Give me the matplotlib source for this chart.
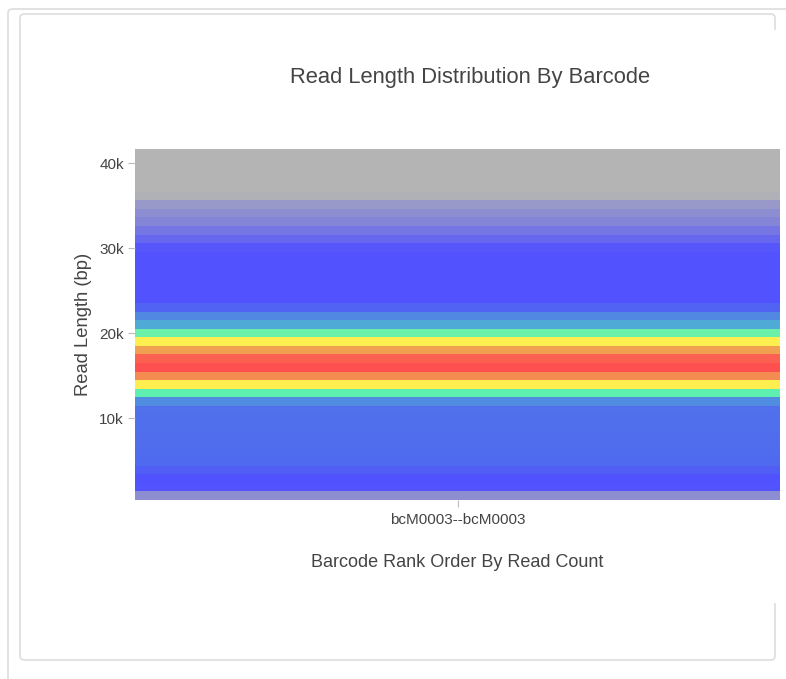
import matplotlib
matplotlib.use('Agg')
import matplotlib.pyplot as plt
from matplotlib.colors import LinearSegmentedColormap
from matplotlib.patches import FancyBboxPatch, Rectangle
import numpy as np

# one barcode, read length histogram in ~1 kb bins (bottom to top)
barcodes = ['bcM0003--bcM0003']
bin_lo = 350
bin_hi = 41678
counts = [40, 100, 110, 150, 195, 200, 205, 205, 210, 210, 215,
          320, 550, 700, 850, 1000, 960, 780, 700, 560, 420, 300, 170,
          100, 100, 100, 100, 100, 100, 95, 80, 65, 50, 40, 30,
          5, 3, 2, 1, 1, 0]
ytick_vals = [10000, 20000, 30000, 40000]
ytick_labels = ['10k', '20k', '30k', '40k']

cmap = LinearSegmentedColormap.from_list('rl', [
    (0.0, '#b4b4b4'),
    (0.1, '#5050ff'),
    (0.22, '#5072ea'),
    (0.42, '#50aad6'),
    (0.55, '#5ef0b0'),
    (0.7, '#fff050'),
    (0.78, '#f0a050'),
    (0.86, '#f48850'),
    (1.0, '#ff5050'),
])

plt.rcParams['font.family'] = ['Liberation Sans', 'DejaVu Sans']

fig = plt.figure(figsize=(7.86, 6.79), dpi=100)

# card borders
W, H = 786.0, 679.0
outer = FancyBboxPatch((8 / W, -10 / H), 800 / W, 680 / H, boxstyle='round,pad=0,rounding_size=0.006',
                       transform=fig.transFigure, fill=False, edgecolor='#dddddd', linewidth=1.2, zorder=0)
inner = FancyBboxPatch((20 / W, (H - 660) / H), 755 / W, 646 / H, boxstyle='round,pad=0,rounding_size=0.006',
                       transform=fig.transFigure, fill=False, edgecolor='#dddddd', linewidth=1.2, zorder=0)
# the chart's white background hides the inner card's right edge
cover = Rectangle((770 / W, (H - 603) / H), 16 / W, 573 / H, transform=fig.transFigure,
                  facecolor='white', edgecolor='none', zorder=1)
fig.patches.extend([outer, inner, cover])

ax = fig.add_axes([135 / W, (H - 500) / H, 645 / W, 351 / H])
ax.set_zorder(2)

edges = np.linspace(bin_lo, bin_hi, len(counts) + 1)
z = np.array(counts, dtype=float).reshape(-1, 1)
ax.pcolormesh([0, 1], edges, z, cmap=cmap, vmin=0, vmax=max(counts))

ax.set_xlim(0, 1)
ax.set_ylim(bin_lo, bin_hi)
ax.set_xticks([0.5])
ax.set_xticklabels(barcodes)
ax.set_yticks(ytick_vals)
ax.set_yticklabels(ytick_labels)
for s in ax.spines.values():
    s.set_visible(False)
ax.tick_params(axis='y', length=5, color='#bbbbbb', labelcolor='#444444', labelsize=11, pad=3)
ax.tick_params(axis='x', length=5, color='#bbbbbb', labelcolor='#444444', labelsize=11, pad=4)

ax.set_ylabel('Read Length (bp)', fontsize=13.2, color='#444444', labelpad=5)
ax.set_xlabel('Barcode Rank Order By Read Count', fontsize=13, color='#444444', labelpad=20)
fig.text(470 / W, 1 - 77 / H, 'Read Length Distribution By Barcode', ha='center', va='center',
         fontsize=15.8, color='#444444')

fig.savefig('out.png', dpi=100)
